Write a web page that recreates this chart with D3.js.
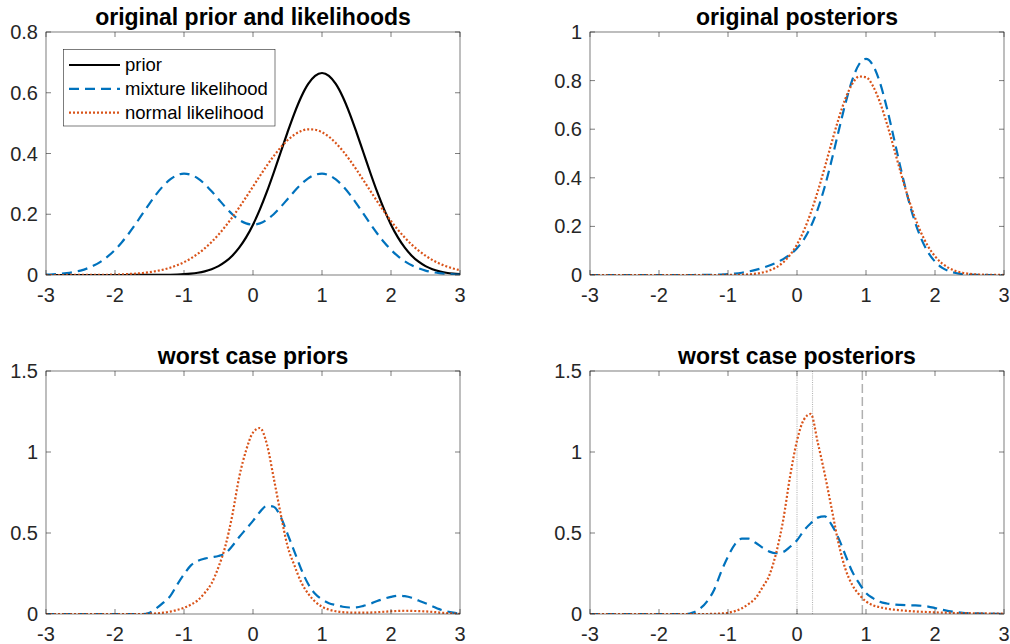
<!DOCTYPE html>
<html>
<head>
<meta charset="utf-8">
<script src="https://cdn.jsdelivr.net/npm/d3@7"></script>
<style>
  html, body { margin: 0; padding: 0; background: #fff; }
  svg { display: block; }
  text { font-family: "Liberation Sans", Arial, Helvetica, sans-serif; }
</style>
</head>
<body>
<svg id="chart" width="1010" height="644"></svg>
<script>
// ---------------- data ----------------
const xGrid = [-3.0,-2.9,-2.8,-2.7,-2.6,-2.5,-2.4,-2.3,-2.2,-2.1,
  -2.0,-1.9,-1.8,-1.7,-1.6,-1.5,-1.4,-1.3,-1.2,-1.1,
  -1.0,-0.9,-0.8,-0.7,-0.6,-0.5,-0.4,-0.3,-0.2,-0.1,
  0.0,0.1,0.2,0.3,0.4,0.5,0.6,0.7,0.8,0.9,
  1.0,1.1,1.2,1.3,1.4,1.5,1.6,1.7,1.8,1.9,
  2.0,2.1,2.2,2.3,2.4,2.5,2.6,2.7,2.8,2.9,
  3.0];

// panel 1: original prior and likelihoods
const prior = [0,0,0,0,0,0,0,0,0,0,
  0,0,0.0001,0.0001,0.0001,0.0001,0.0002,0.0004,0.0008,0.0015,
  0.0026,0.0044,0.0074,0.0120,0.0190,0.0292,0.0437,0.0636,0.0900,0.1239,
  0.1658,0.2159,0.2733,0.3366,0.4033,0.4698,0.5324,0.5868,0.6290,0.6557,
  0.6650,0.6557,0.6290,0.5868,0.5324,0.4698,0.4033,0.3366,0.2733,0.2159,
  0.1658,0.1239,0.0900,0.0636,0.0437,0.0292,0.0190,0.0120,0.0074,0.0044,
  0.0026];
const mixtureLik = [0.0013,0.0022,0.0037,0.0060,0.0095,0.0146,0.0219,0.0318,0.0450,0.0620,
  0.0829,0.1080,0.1367,0.1683,0.2017,0.2349,0.2662,0.2934,0.3145,0.3286,
  0.3338,0.3300,0.3182,0.2994,0.2757,0.2495,0.2235,0.2001,0.1817,0.1699,
  0.1658,0.1699,0.1817,0.2001,0.2235,0.2495,0.2757,0.2994,0.3182,0.3300,
  0.3338,0.3286,0.3145,0.2934,0.2662,0.2349,0.2017,0.1683,0.1367,0.1080,
  0.0829,0.0620,0.0450,0.0318,0.0219,0.0146,0.0095,0.0060,0.0037,0.0022,
  0.0013];
const normalLik = [0,0,0,0.0001,0.0001,0.0002,0.0002,0.0004,0.0006,0.0009,
  0.0014,0.0022,0.0032,0.0046,0.0066,0.0093,0.0130,0.0179,0.0241,0.0322,
  0.0423,0.0547,0.0698,0.0878,0.1088,0.1329,0.1601,0.1900,0.2222,0.2562,
  0.2911,0.3261,0.3599,0.3915,0.4197,0.4435,0.4619,0.4741,0.4797,0.4783,
  0.4700,0.4553,0.4346,0.4089,0.3792,0.3466,0.3121,0.2772,0.2425,0.2091,
  0.1777,0.1489,0.1230,0.1001,0.0802,0.0635,0.0494,0.0379,0.0287,0.0214,
  0.0157];

// panel 2: original posteriors
const postMixture = [0,0,0,0,0,0,0,0,0,0,
  0,0,0,0,0,0.0001,0.0002,0.0005,0.0010,0.0019,
  0.0034,0.0058,0.0094,0.0144,0.0210,0.0292,0.0391,0.0510,0.0655,0.0843,
  0.1102,0.1470,0.1990,0.2700,0.3612,0.4699,0.5883,0.7040,0.8019,0.8673,
  0.8892,0.8634,0.7936,0.6904,0.5682,0.4425,0.3259,0.2271,0.1497,0.0934,
  0.0551,0.0307,0.0162,0.0081,0.0038,0.0017,0.0007,0.0003,0.0001,0,
  0];
const postNormal = [0,0,0,0,0,0,0,0,0,0,
  0,0,0,0,0,0,0,0,0,0.0001,
  0.0003,0.0006,0.0013,0.0027,0.0054,0.0101,0.0182,0.0315,0.0521,0.0827,
  0.1257,0.1833,0.2562,0.3432,0.4407,0.5426,0.6404,0.7245,0.7858,0.8170,
  0.8142,0.7779,0.7124,0.6254,0.5264,0.4247,0.3284,0.2435,0.1731,0.1179,
  0.0770,0.0482,0.0289,0.0166,0.0092,0.0048,0.0025,0.0012,0.0006,0.0002,
  0.0001];

// panel 3: worst case priors
const wcPriorMixture = [0,0,0,0,0,0,0,0,0,0,
  0,0,0,0,0,0.008,0.035,0.07,0.11,0.18,
  0.245,0.30,0.328,0.342,0.350,0.358,0.375,0.420,0.475,0.525,
  0.575,0.630,0.668,0.662,0.600,0.495,0.385,0.275,0.185,0.125,
  0.090,0.067,0.055,0.045,0.040,0.041,0.050,0.063,0.080,0.094,
  0.106,0.113,0.110,0.100,0.083,0.066,0.048,0.030,0.017,0.008,
  0.002];
const wcPriorNormal = [0,0,0,0,0,0,0,0,0,0,
  0,0,0,0,0,0.002,0.004,0.008,0.015,0.025,
  0.038,0.058,0.085,0.130,0.190,0.290,0.420,0.610,0.845,1.010,
  1.120,1.148,1.050,0.840,0.620,0.420,0.300,0.195,0.125,0.077,
  0.045,0.027,0.017,0.011,0.009,0.008,0.008,0.009,0.011,0.014,
  0.017,0.019,0.020,0.019,0.018,0.016,0.013,0.009,0.006,0.003,
  0.001];

// panel 4: worst case posteriors
const wcPostMixture = [0,0,0,0,0,0,0,0,0,0,
  0,0,0,0,0,0.010,0.035,0.080,0.150,0.260,
  0.355,0.430,0.465,0.465,0.440,0.410,0.385,0.375,0.383,0.415,
  0.455,0.515,0.560,0.595,0.603,0.552,0.470,0.365,0.262,0.190,
  0.130,0.098,0.076,0.065,0.059,0.056,0.054,0.053,0.051,0.046,
  0.037,0.027,0.018,0.012,0.007,0.005,0.004,0.003,0.002,0.001,
  0];
const wcPostNormal = [0,0,0,0,0,0,0,0,0,0,
  0,0,0,0,0,0,0,0,0.001,0.003,
  0.008,0.018,0.035,0.062,0.098,0.165,0.240,0.380,0.580,0.850,
  1.070,1.200,1.235,1.060,0.868,0.655,0.440,0.280,0.180,0.120,
  0.078,0.054,0.042,0.033,0.027,0.023,0.019,0.016,0.014,0.012,
  0.010,0.009,0.008,0.006,0.005,0.005,0.004,0.004,0.003,0.002,
  0.002];
const refDotted = [0, 0.225];
const refDashed = [0.947];

const xTicks = [-3,-2,-1,0,1,2,3];
const xTickLabels = ["-3","-2","-1","0","1","2","3"];
const yTicks1 = [0,0.2,0.4,0.6,0.8];
const yTickLabels1 = ["0","0.2","0.4","0.6","0.8"];
const yTicks2 = [0,0.2,0.4,0.6,0.8,1];
const yTickLabels2 = ["0","0.2","0.4","0.6","0.8","1"];
const yTicks3 = [0,0.5,1,1.5];
const yTickLabels3 = ["0","0.5","1","1.5"];

const titles = ["original prior and likelihoods","original posteriors","worst case priors","worst case posteriors"];
const legendLabels = ["prior","mixture likelihood","normal likelihood"];

// ---------------- styles ----------------
const COL = { prior: "#000000", mix: "#0072BD", norm: "#D95319", axis: "#262626" };
const STY = {
  solid: { color: COL.prior, dash: null },
  dashed: { color: COL.mix, dash: "10,6" },
  dotted: { color: COL.norm, dash: "2,2" }
};
const LW = 2.2;
const AXFONT = 20, TITLEFONT = 23, LEGFONT = 18.5;

const panels = [
  { left: 46, top: 32, title: titles[0], ymax: 0.8, yt: yTicks1, ytl: yTickLabels1,
    series: [{ y: prior, s: "solid" }, { y: mixtureLik, s: "dashed" }, { y: normalLik, s: "dotted" }], legend: true },
  { left: 590, top: 32, title: titles[1], ymax: 1, yt: yTicks2, ytl: yTickLabels2,
    series: [{ y: postMixture, s: "dashed" }, { y: postNormal, s: "dotted" }] },
  { left: 46, top: 371, title: titles[2], ymax: 1.5, yt: yTicks3, ytl: yTickLabels3,
    series: [{ y: wcPriorMixture, s: "dashed" }, { y: wcPriorNormal, s: "dotted" }] },
  { left: 590, top: 371, title: titles[3], ymax: 1.5, yt: yTicks3, ytl: yTickLabels3,
    series: [{ y: wcPostMixture, s: "dashed" }, { y: wcPostNormal, s: "dotted" }], refs: true }
];
const W = 414, H = 243, TICK = 5;

const svg = d3.select("#chart");

panels.forEach((p, pi) => {
  const x = d3.scaleLinear().domain([-3, 3]).range([0, W]);
  const y = d3.scaleLinear().domain([0, p.ymax]).range([H, 0]);
  const g = svg.append("g").attr("transform", `translate(${p.left},${p.top})`);

  g.append("defs").append("clipPath").attr("id", "clip" + pi)
    .append("rect").attr("x", 0).attr("y", 0).attr("width", W).attr("height", H);

  const plot = g.append("g").attr("clip-path", `url(#clip${pi})`);

  // reference lines
  if (p.refs) {
    refDotted.forEach(v => {
      plot.append("line").attr("x1", x(v)).attr("x2", x(v)).attr("y1", 0).attr("y2", H)
        .attr("stroke", "#b4b4b4").attr("stroke-width", 1.1).attr("stroke-dasharray", "1,1.2");
    });
    refDashed.forEach(v => {
      plot.append("line").attr("x1", x(v)).attr("x2", x(v)).attr("y1", 0).attr("y2", H)
        .attr("stroke", "#b0b0b0").attr("stroke-width", 1.5).attr("stroke-dasharray", "9,4");
    });
  }

  const line = d3.line().x((d, i) => x(xGrid[i])).y(d => y(d)).curve(d3.curveMonotoneX);
  p.series.forEach(s => {
    const st = STY[s.s];
    plot.append("path").datum(s.y).attr("d", line)
      .attr("fill", "none").attr("stroke", st.color).attr("stroke-width", LW)
      .attr("stroke-dasharray", st.dash).attr("stroke-linejoin", "round");
  });

  // box
  g.append("rect").attr("x", 0).attr("y", 0).attr("width", W).attr("height", H)
    .attr("fill", "none").attr("stroke", COL.axis).attr("stroke-width", 0.6);

  // x ticks (bottom & top, inward)
  xTicks.forEach((t, i) => {
    g.append("line").attr("x1", x(t)).attr("x2", x(t)).attr("y1", H).attr("y2", H - TICK)
      .attr("stroke", COL.axis).attr("stroke-width", 0.6);
    g.append("line").attr("x1", x(t)).attr("x2", x(t)).attr("y1", 0).attr("y2", TICK)
      .attr("stroke", COL.axis).attr("stroke-width", 0.6);
    g.append("text").attr("x", x(t)).attr("y", H + 27).attr("text-anchor", "middle")
      .attr("font-size", AXFONT).attr("fill", COL.axis).text(xTickLabels[i]);
  });
  // y ticks (left & right, inward)
  p.yt.forEach((t, i) => {
    g.append("line").attr("x1", 0).attr("x2", TICK).attr("y1", y(t)).attr("y2", y(t))
      .attr("stroke", COL.axis).attr("stroke-width", 0.6);
    g.append("line").attr("x1", W).attr("x2", W - TICK).attr("y1", y(t)).attr("y2", y(t))
      .attr("stroke", COL.axis).attr("stroke-width", 0.6);
    g.append("text").attr("x", -8).attr("y", y(t) + 7).attr("text-anchor", "end")
      .attr("font-size", AXFONT).attr("fill", COL.axis).text(p.ytl[i]);
  });

  // title
  g.append("text").attr("x", W / 2).attr("y", -7).attr("text-anchor", "middle")
    .attr("font-size", TITLEFONT).attr("font-weight", "bold").attr("fill", "#000").text(p.title);

  // legend
  if (p.legend) {
    const lg = g.append("g").attr("transform", `translate(${63.3 - p.left},${49.3 - p.top})`);
    lg.append("rect").attr("x", 0).attr("y", 0).attr("width", 211.7).attr("height", 76.7)
      .attr("fill", "#fff").attr("stroke", COL.axis).attr("stroke-width", 0.6);
    const rows = ["solid", "dashed", "dotted"];
    rows.forEach((r, i) => {
      const ry = 15.7 + i * 23.8;
      const st = STY[r];
      lg.append("line").attr("x1", 5.7).attr("x2", 56.7).attr("y1", ry).attr("y2", ry)
        .attr("stroke", st.color).attr("stroke-width", LW).attr("stroke-dasharray", st.dash);
      lg.append("text").attr("x", 61.7).attr("y", ry + 6).attr("font-size", LEGFONT)
        .attr("fill", "#000").text(legendLabels[i]);
    });
  }
});
</script>
</body>
</html>
